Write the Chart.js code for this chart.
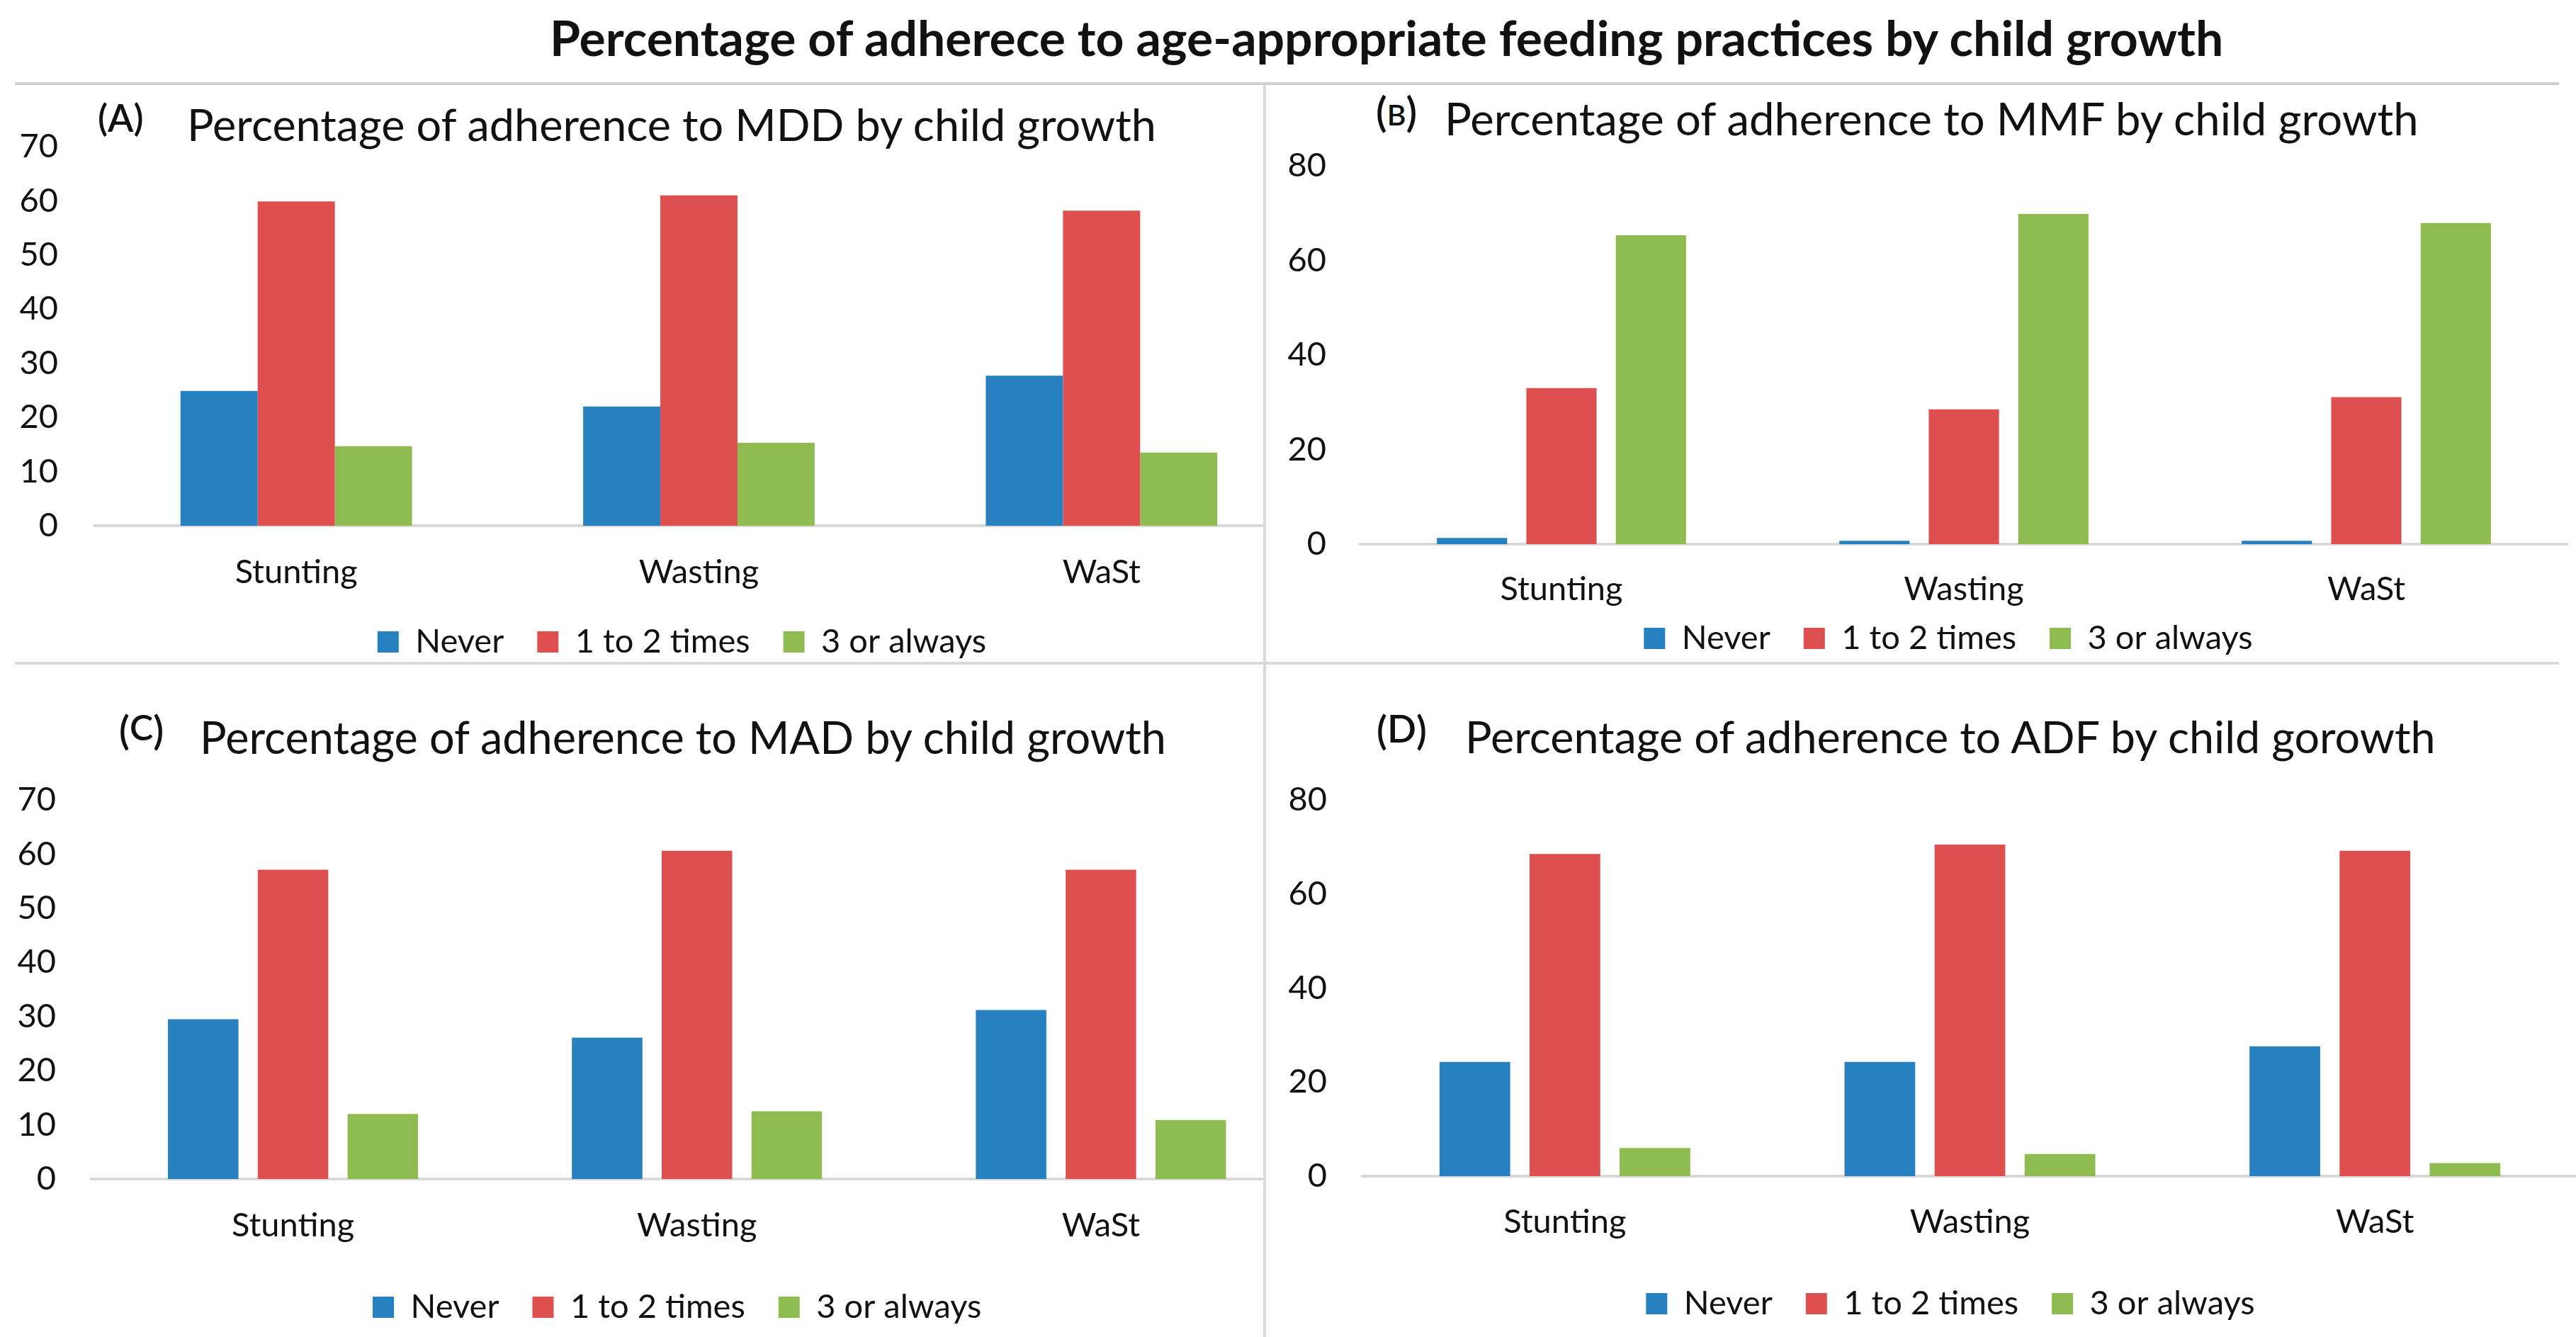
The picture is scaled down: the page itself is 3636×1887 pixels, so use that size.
<!DOCTYPE html>
<html>
<head>
<meta charset="utf-8">
<script src="https://cdn.jsdelivr.net/npm/chart.js@4.4.1/dist/chart.umd.min.js"></script>
<style>
  html, body { margin:0; padding:0; background:#ffffff; }
  body { width:3636px; height:1887px; overflow:hidden; position:relative; font-family:Lato, sans-serif; }
  .txt { position:absolute; white-space:nowrap; line-height:1; color:#111111; }
  .lab { font-weight:600; }
  .lab span { position:relative; }
  .line { position:absolute; background:#d9d9d9; }
  .wrap { position:absolute; overflow:hidden; }
  .wrap canvas { position:absolute; left:0; top:0; }
</style>
</head>
<body>
<div id="mainTitle" class="txt" style="font-weight:bold">Percentage of adherece to age-appropriate feeding practices by child growth</div>
<div class="line" style="left:21px; top:116px; width:3591px; height:4px; background:#cfcfcf"></div>
<div class="line" style="left:1783px; top:120px; width:4px; height:1767px"></div>
<div class="line" style="left:21px; top:934px; width:3591px; height:4px"></div>

<div id="labA" class="txt lab">(<span>A</span>)</div><div id="titA" class="txt">Percentage of adherence to MDD by child growth</div>
<div id="labB" class="txt lab">(<span>B</span>)</div><div id="titB" class="txt">Percentage of adherence to MMF by child growth</div>
<div id="labC" class="txt lab">(<span>C</span>)</div><div id="titC" class="txt">Percentage of adherence to MAD by child growth</div>
<div id="labD" class="txt lab">(<span>D</span>)</div><div id="titD" class="txt">Percentage of adherence to ADF by child gorowth</div>

<div id="wrapA" class="wrap"><canvas id="cA"></canvas></div>
<div id="wrapB" class="wrap"><canvas id="cB"></canvas></div>
<div id="wrapC" class="wrap"><canvas id="cC"></canvas></div>
<div id="wrapD" class="wrap"><canvas id="cD"></canvas></div>

<script>
// ---------------- data ----------------
const categories = ['Stunting', 'Wasting', 'WaSt'];
const seriesNames = ['Never', '1 to 2 times', '3 or always'];

// (A) MDD
const mddNever = [24.9, 22.0, 27.7];
const mddOneTwo = [59.9, 61.0, 58.2];
const mddThree = [14.7, 15.3, 13.5];
// (B) MMF
const mmfNever = [1.3, 0.7, 0.7];
const mmfOneTwo = [33.0, 28.5, 31.1];
const mmfThree = [65.3, 69.8, 67.9];
// (C) MAD
const madNever = [29.5, 26.1, 31.2];
const madOneTwo = [57.1, 60.6, 57.1];
const madThree = [12.0, 12.5, 10.9];
// (D) ADF
const adfNever = [24.3, 24.3, 27.6];
const adfOneTwo = [68.5, 70.5, 69.2];
const adfThree = [6.0, 4.7, 2.8];

const ticks70 = [0, 10, 20, 30, 40, 50, 60, 70];
const ticks80 = [0, 20, 40, 60, 80];

// ---------------- styles ----------------
const seriesColors = ['#2781C1', '#DE4F4F', '#8FBC50'];
const FONT = 'Lato';
const TEXT = '#111111';
const FS = 47;          // axis / legend font size
const CAPC = 0.5285;    // cap centre (em) from top of a line-height:1 box
const BASE = 0.887;     // baseline (em) from top of a line-height:1 box

function fitText(id, opts) {
  const el = document.getElementById(id);
  const ctx = document.createElement('canvas').getContext('2d');
  ctx.font = (opts.bold ? 'bold ' : '') + '100px ' + FONT;
  const w = ctx.measureText(el.textContent).width;
  const size = 100 * opts.width / w;
  el.style.fontSize = size + 'px';
  el.style.left = opts.left + 'px';
  el.style.top = (opts.capCenter - CAPC * size) + 'px';
}
function placeLabel(id, o) {
  const el = document.getElementById(id);
  el.style.fontSize = o.S + 'px';
  el.style.left = o.left + 'px';
  const top = o.parenC - (BASE - 0.315) * o.S;
  el.style.top = top + 'px';
  const sp = el.querySelector('span');
  sp.style.fontSize = o.s + 'px';
  const capC = top + BASE * o.S - 0.3585 * o.s;
  sp.style.top = (o.letterC - capC) + 'px';
}

fitText('mainTitle', {left: 776, width: 2366, capCenter: 55, bold: true});
fitText('titA', {left: 264, width: 1371, capCenter: 177});
fitText('titB', {left: 2039, width: 1379, capCenter: 168});
fitText('titC', {left: 282, width: 1367, capCenter: 1041});
fitText('titD', {left: 2068, width: 1376, capCenter: 1041});
placeLabel('labA', {left: 138, S: 52, parenC: 167.5, s: 53, letterC: 166});
placeLabel('labB', {left: 1942, S: 58, parenC: 161.5, s: 41, letterC: 162.5});
placeLabel('labC', {left: 168, S: 55, parenC: 1034, s: 50, letterC: 1028});
placeLabel('labD', {left: 1943, S: 55, parenC: 1034, s: 54, letterC: 1029});

// legend placement plugin: moves the legend block so its items are centred on (x, y)
const legendPlace = {
  id: 'legendPlace',
  afterLayout(chart, args, opts) {
    const lg = chart.legend;
    if (!lg || opts.x === undefined) return;
    const lab = lg.options.labels;
    const itemH = Math.max(lab.font.size || FS, lab.boxHeight || 0);
    const dx = opts.x - (lg.left + lg.right) / 2;
    const dy = opts.y - (lg.top + lab.padding + itemH / 2);
    lg.left += dx; lg.right += dx; lg.top += dy; lg.bottom += dy;
    if (lg.adjustHitBoxes) lg.adjustHitBoxes();
  }
};

const panels = [
  { canvas: 'cA', wrap: 'wrapA', series: [mddNever, mddOneTwo, mddThree], tickVals: ticks70,
    box: {x: 0, y: 116, w: 1839, h: 840, clipW: 1783},
    pad: {left: 0, right: 0, top: 91, bottom: 0}, yW: 134, xH: 110, xPad: 38, yPad: 52,
    legend: {x: 962.5, y: 790}, cat: 0.575, bar: 1.0 },
  { canvas: 'cB', wrap: 'wrapB', series: [mmfNever, mmfOneTwo, mmfThree], tickVals: ticks80,
    box: {x: 1787, y: 116, w: 1849, h: 866, clipW: 1849},
    pad: {left: 0, right: 12, top: 118, bottom: 0}, yW: 133, xH: 110, xPad: 36, yPad: 48,
    legend: {x: 963, y: 785}, cat: 0.667, bar: 0.785 },
  { canvas: 'cC', wrap: 'wrapC', series: [madNever, madOneTwo, madThree], tickVals: ticks70,
    box: {x: 0, y: 938, w: 1839, h: 949, clipW: 1783},
    pad: {left: 0, right: 0, top: 191, bottom: 9}, yW: 128.5, xH: 110, xPad: 38, yPad: 49.5,
    legend: {x: 955.7, y: 907}, cat: 0.667, bar: 0.785 },
  { canvas: 'cD', wrap: 'wrapD', series: [adfNever, adfOneTwo, adfThree], tickVals: ticks80,
    box: {x: 1787, y: 938, w: 1851, h: 949, clipW: 1849},
    pad: {left: 0, right: 0, top: 191, bottom: 13}, yW: 136, xH: 110, xPad: 37, yPad: 50,
    legend: {x: 966, y: 902}, cat: 0.667, bar: 0.785 }
];

panels.forEach(p => {
  const wrap = document.getElementById(p.wrap);
  wrap.style.left = p.box.x + 'px';
  wrap.style.top = p.box.y + 'px';
  wrap.style.width = p.box.clipW + 'px';
  wrap.style.height = p.box.h + 'px';
  const cv = document.getElementById(p.canvas);
  cv.width = p.box.w; cv.height = p.box.h;
  cv.style.width = p.box.w + 'px'; cv.style.height = p.box.h + 'px';

  const tv = p.tickVals;
  new Chart(cv, {
    type: 'bar',
    data: {
      labels: categories,
      datasets: p.series.map((vals, i) => ({
        label: seriesNames[i],
        data: vals,
        backgroundColor: seriesColors[i],
        borderWidth: 0,
        categoryPercentage: p.cat,
        barPercentage: p.bar
      }))
    },
    plugins: [legendPlace],
    options: {
      responsive: false,
      animation: false,
      devicePixelRatio: 1,
      layout: { padding: p.pad },
      plugins: {
        title: { display: false },
        tooltip: { enabled: false },
        legendPlace: p.legend,
        legend: {
          position: 'bottom',
          align: 'center',
          labels: {
            boxWidth: 30, boxHeight: 30, padding: 47,
            color: TEXT, font: { family: FONT, size: FS }
          }
        }
      },
      scales: {
        x: {
          grid: { display: false, drawTicks: false },
          border: { display: true, color: '#d9d9d9', width: 4 },
          ticks: { padding: p.xPad, color: TEXT, font: { family: FONT, size: FS }, maxRotation: 0, autoSkip: false },
          afterFit: s => { s.height = p.xH; }
        },
        y: {
          min: tv[0], max: tv[tv.length - 1],
          grid: { display: false, drawTicks: false },
          border: { display: false },
          afterBuildTicks: s => { s.ticks = tv.map(v => ({ value: v })); },
          ticks: { padding: p.yPad, color: TEXT, font: { family: FONT, size: FS } },
          afterFit: s => { s.width = p.yW; }
        }
      }
    }
  });
});
</script>
</body>
</html>
